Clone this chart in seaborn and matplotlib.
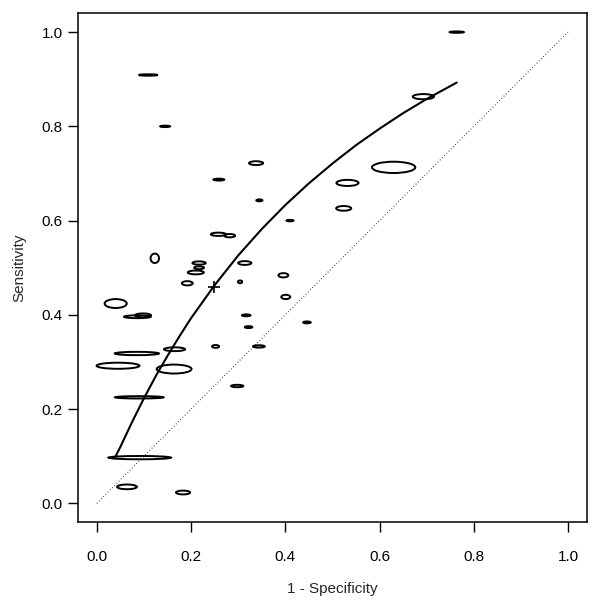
import numpy as np
import pandas as pd
import matplotlib
matplotlib.use('Agg')
import matplotlib.pyplot as plt
from matplotlib.patches import Ellipse
import seaborn as sns

# Study-level confidence ellipses: centre (1-spec, sens) and full width / height
fpr = [0.764, 0.109, 0.145, 0.338, 0.259, 0.345, 0.410, 0.258, 0.282, 0.123,
       0.693, 0.630, 0.532, 0.524, 0.217, 0.217, 0.210, 0.314, 0.396, 0.192,
       0.304, 0.040, 0.086, 0.098, 0.401, 0.317, 0.322, 0.446, 0.252, 0.344,
       0.085, 0.165, 0.045, 0.164, 0.298, 0.090, 0.091, 0.064, 0.183]
sens = [1.000, 0.909, 0.800, 0.722, 0.687, 0.643, 0.600, 0.571, 0.568, 0.520,
        0.863, 0.713, 0.680, 0.626, 0.510, 0.500, 0.490, 0.510, 0.484, 0.467,
        0.470, 0.424, 0.396, 0.399, 0.438, 0.399, 0.374, 0.384, 0.333, 0.333,
        0.318, 0.327, 0.292, 0.285, 0.249, 0.225, 0.097, 0.035, 0.023]
ell_w = [0.030, 0.040, 0.021, 0.030, 0.023, 0.013, 0.015, 0.032, 0.023, 0.018,
         0.045, 0.092, 0.047, 0.032, 0.028, 0.021, 0.034, 0.028, 0.021, 0.023,
         0.009, 0.047, 0.057, 0.034, 0.019, 0.018, 0.016, 0.016, 0.015, 0.025,
         0.094, 0.045, 0.091, 0.074, 0.026, 0.103, 0.133, 0.042, 0.030]
ell_h = [0.003, 0.003, 0.003, 0.008, 0.004, 0.004, 0.003, 0.007, 0.007, 0.020,
         0.011, 0.024, 0.013, 0.010, 0.007, 0.006, 0.008, 0.008, 0.009, 0.009,
         0.006, 0.019, 0.006, 0.008, 0.009, 0.004, 0.004, 0.004, 0.006, 0.005,
         0.007, 0.008, 0.013, 0.019, 0.005, 0.005, 0.007, 0.010, 0.008]

# SROC curve
sroc_fpr = [0.040, 0.050, 0.075, 0.100, 0.125, 0.150, 0.175, 0.200, 0.250, 0.300,
            0.350, 0.400, 0.450, 0.500, 0.550, 0.600, 0.650, 0.700, 0.764]
sroc_sens = [0.100, 0.120, 0.173, 0.223, 0.270, 0.313, 0.354, 0.393, 0.463, 0.526,
             0.582, 0.633, 0.679, 0.721, 0.760, 0.795, 0.828, 0.858, 0.893]

# summary point
summ_fpr = [0.248]
summ_sens = [0.459]

ticks = [0.0, 0.2, 0.4, 0.6, 0.8, 1.0]

sns.set_style('ticks')
plt.rcParams['font.family'] = ['Liberation Sans', 'DejaVu Sans']

fig = plt.figure(figsize=(6.0, 6.03), dpi=100)
ax = fig.add_axes([0.13, 0.134, 0.848, 0.844])

# chance line
diag = pd.DataFrame({'x': [0.0, 1.0], 'y': [0.0, 1.0]})
sns.lineplot(data=diag, x='x', y='y', ax=ax, color='black', linestyle=(0, (0.6, 2.2)),
             linewidth=0.8)

# SROC curve
df_sroc = pd.DataFrame({'fpr': sroc_fpr, 'sens': sroc_sens})
sns.lineplot(data=df_sroc, x='fpr', y='sens', ax=ax, color='black', linewidth=1.5,
             sort=False)

for x, y, w, h in zip(fpr, sens, ell_w, ell_h):
    ax.add_patch(Ellipse((x, y), w, h, fill=False, edgecolor='black', linewidth=1.4))

sns.scatterplot(x=summ_fpr, y=summ_sens, ax=ax, marker='+', s=70, color='black',
                linewidth=1.2)

ax.set_xlim(-0.04, 1.04)
ax.set_ylim(-0.04, 1.04)
ax.set_xticks(ticks)
ax.set_yticks(ticks)
ax.set_xticklabels([f'{t:.1f}' for t in ticks])
ax.set_yticklabels([f'{t:.1f}' for t in ticks])
ax.tick_params(axis='both', length=7, width=1.0, labelsize=11, color='black',
               labelcolor='black')
ax.tick_params(axis='x', pad=13)
ax.tick_params(axis='y', pad=4)
for s in ax.spines.values():
    s.set_visible(True)
    s.set_color('black')
    s.set_linewidth(1.1)
ax.set_xlabel('1 - Specificity', fontsize=11, labelpad=13)
ax.set_ylabel('Sensitivity', fontsize=11, labelpad=11)

fig.savefig('out.png', dpi=100)
